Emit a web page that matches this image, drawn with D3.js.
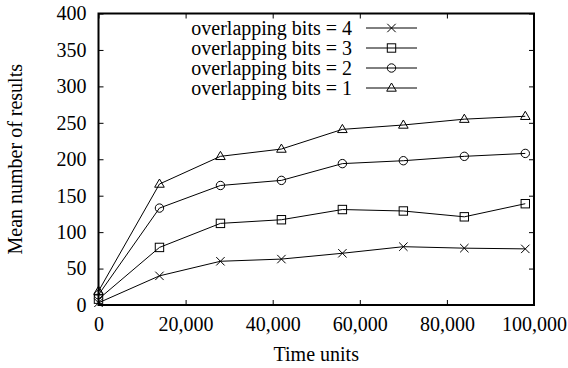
<!DOCTYPE html>
<html>
<head>
<meta charset="utf-8">
<script src="https://cdn.jsdelivr.net/npm/d3@7"></script>
<style>
  html, body { margin: 0; padding: 0; background: #fff; }
</style>
</head>
<body>
<svg id="chart" width="568" height="368"></svg>
<script>
// Sampling times (time units)
const timeUnits = [0, 14000, 28000, 42000, 56000, 70000, 84000, 98000];

// Mean number of results per overlapping-bits setting
const bits4 = [3, 40, 60, 63, 71, 80, 78, 77];
const bits3 = [8, 79, 112, 117, 131, 129, 121, 139];
const bits2 = [14, 133, 164, 171, 194, 198, 204, 208];
const bits1 = [19, 166, 204, 214, 241, 247, 255, 259];

const seriesLabels = ["overlapping bits = 4", "overlapping bits = 3", "overlapping bits = 2", "overlapping bits = 1"];
const seriesMarkers = ["cross", "square", "circle", "triangle"];

const xTicks = [0, 20000, 40000, 60000, 80000, 100000];
const yTicks = [0, 50, 100, 150, 200, 250, 300, 350, 400];

const series = [bits4, bits3, bits2, bits1].map((vals, i) => ({
  label: seriesLabels[i],
  marker: seriesMarkers[i],
  points: vals.map((v, j) => ({ t: timeUnits[j], v }))
}));

const svg = d3.select("#chart");
const margin = { left: 98.5, right: 34, top: 13.5, bottom: 63 };
const W = 568, H = 368;
const x = d3.scaleLinear().domain([0, 100000]).range([margin.left, W - margin.right]);
const y = d3.scaleLinear().domain([0, 400]).range([H - margin.bottom, margin.top]);

const fmt = d3.format(",");
const FONT = '"Liberation Serif"';
const fontSize = "20px";

function styleText(sel) {
  return sel.style("font-family", FONT).style("font-size", fontSize).attr("fill", "#000");
}

// Axes with inward ticks, mirrored on top and right
const axisB = svg.append("g").attr("transform", `translate(0,${y(0)})`)
  .call(d3.axisBottom(x).tickValues(xTicks).tickFormat(fmt).tickSizeInner(-5).tickSizeOuter(0).tickPadding(12));
const axisL = svg.append("g").attr("transform", `translate(${x(0)},0)`)
  .call(d3.axisLeft(y).tickValues(yTicks).tickSizeInner(-5).tickSizeOuter(0).tickPadding(12));
const axisT = svg.append("g").attr("transform", `translate(0,${y(400)})`)
  .call(d3.axisTop(x).tickValues(xTicks).tickFormat("").tickSizeInner(-5).tickSizeOuter(0));
const axisR = svg.append("g").attr("transform", `translate(${x(100000)},0)`)
  .call(d3.axisRight(y).tickValues(yTicks).tickFormat("").tickSizeInner(-5).tickSizeOuter(0));

[axisB, axisL, axisT, axisR].forEach(g => {
  g.attr("font-family", null).attr("font-size", null);
  g.select(".domain").remove();
  g.selectAll(".tick line").attr("stroke", "#000").attr("stroke-width", 1);
  styleText(g.selectAll(".tick text"));
});

// Plot frame
svg.append("rect")
  .attr("x", x(0)).attr("y", y(400))
  .attr("width", x(100000) - x(0)).attr("height", y(0) - y(400))
  .attr("fill", "none").attr("stroke", "#000").attr("stroke-width", 2);

// Axis titles
styleText(svg.append("text"))
  .attr("x", (x(0) + x(100000)) / 2).attr("y", 361)
  .attr("text-anchor", "middle")
  .text("Time units");
styleText(svg.append("text"))
  .attr("transform", `translate(22,${(y(0) + y(400)) / 2}) rotate(-90)`)
  .attr("text-anchor", "middle")
  .text("Mean number of results");

// Marker shapes
function drawMarker(g, type, cx, cy) {
  const s = 4.2;
  if (type === "cross") {
    g.append("path")
      .attr("d", `M${cx - s},${cy - s}L${cx + s},${cy + s}M${cx - s},${cy + s}L${cx + s},${cy - s}`)
      .attr("stroke", "#000").attr("stroke-width", 1).attr("fill", "none");
  } else if (type === "square") {
    g.append("rect").attr("x", cx - s).attr("y", cy - s).attr("width", 2 * s).attr("height", 2 * s)
      .attr("fill", "none").attr("stroke", "#000").attr("stroke-width", 1);
  } else if (type === "circle") {
    g.append("circle").attr("cx", cx).attr("cy", cy).attr("r", s)
      .attr("fill", "none").attr("stroke", "#000").attr("stroke-width", 1);
  } else {
    g.append("path")
      .attr("d", `M${cx},${cy - s - 0.8}L${cx + s + 0.6},${cy + s - 1}L${cx - s - 0.6},${cy + s - 1}Z`)
      .attr("fill", "none").attr("stroke", "#000").attr("stroke-width", 1);
  }
}

const line = d3.line().x(d => x(d.t)).y(d => y(d.v));
const plot = svg.append("g");
series.forEach(s => {
  plot.append("path").datum(s.points).attr("d", line)
    .attr("fill", "none").attr("stroke", "#000").attr("stroke-width", 1);
  s.points.forEach(p => drawMarker(plot, s.marker, x(p.t), y(p.v)));
});

// Legend
const legend = svg.append("g");
series.forEach((s, i) => {
  const ly = 28 + i * 20;
  styleText(legend.append("text"))
    .attr("x", 352).attr("y", ly).attr("dy", "0.33em")
    .attr("text-anchor", "end")
    .text(s.label);
  legend.append("line")
    .attr("x1", 366).attr("x2", 417).attr("y1", ly).attr("y2", ly)
    .attr("stroke", "#000").attr("stroke-width", 1);
  drawMarker(legend, s.marker, 391.5, ly);
});
</script>
</body>
</html>
